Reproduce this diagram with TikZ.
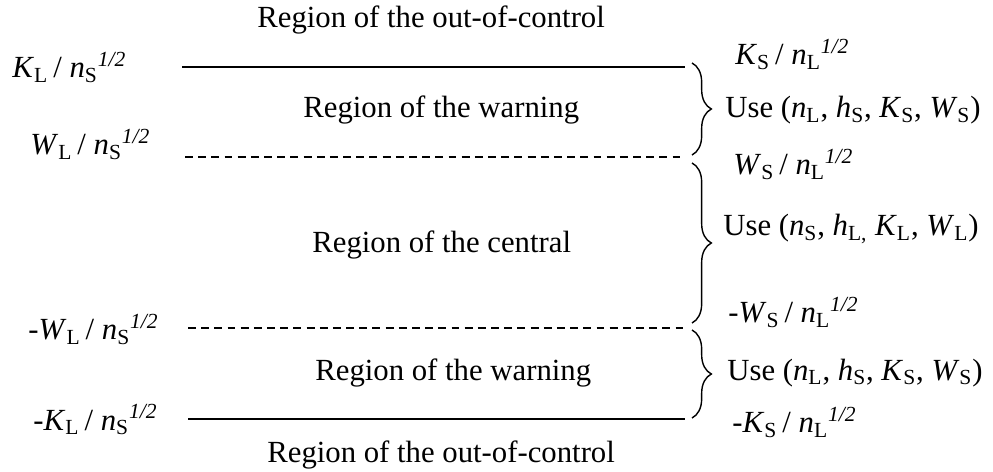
\documentclass[tikz,border=0pt]{standalone}
\usepackage{fontspec}
\setmainfont{Liberation Serif}
\usetikzlibrary{decorations.pathreplacing}

\newcommand{\qv}[2]{\textit{#1}\textsubscript{#2}}
\newcommand{\halfpow}{\textsuperscript{\textit{1/2}}}

\tikzset{
  lbl/.style={anchor=base west, inner sep=0pt, font=\fontsize{17.5}{21}\selectfont},
  limit/.style={line width=0.8pt},
  warnlimit/.style={line width=0.8pt, dash pattern=on 4.5pt off 3pt},
  rbrace/.style={decorate, decoration={brace, amplitude=11pt}, line width=0.8pt}
}

\begin{document}
\begin{tikzpicture}[x=0.02cm, y=-0.02cm]
    \useasboundingbox (0,0) rectangle (993,472);
    % limit lines
    \draw[limit]     (182,67) -- (685,67);
    \draw[warnlimit] (185,157) -- (685,157);
    \draw[warnlimit] (188,328) -- (685,328);
    \draw[limit]     (188,419) -- (685,419);
    % regions
    \node[lbl] (ooc1)  at (257,28)  {Region of the out-of-control};
    \node[lbl] (warn1) at (303,118) {Region of the warning};
    \node[lbl] (cent)  at (312,253) {Region of the central};
    \node[lbl] (warn2) at (315,380) {Region of the warning};
    \node[lbl] (ooc2)  at (267,462) {Region of the out-of-control};
    % left limits
    \node[lbl] (kl)  at (12,78)  {\qv{K}{L}\,/ \qv{n}{S}\halfpow};
    \node[lbl] (wl)  at (30,155) {\qv{W}{L}\,/ \qv{n}{S}\halfpow};
    \node[lbl] (mwl) at (28,340) {-\qv{W}{L}\,/ \qv{n}{S}\halfpow};
    \node[lbl] (mkl) at (33,430) {-\qv{K}{L}\,/ \qv{n}{S}\halfpow};
    % braces
    \draw[rbrace] (692,63) -- (692,155);
    \draw[rbrace] (692,163) -- (692,323);
    \draw[rbrace] (692,330) -- (692,418);
    % right limits and schemes
    \node[lbl] (ks)   at (735,65)  {\qv{K}{S}\,/ \qv{n}{L}\halfpow};
    \node[lbl] (use1) at (725,118) {Use (\qv{n}{L}, \qv{h}{S}, \qv{K}{S}, \qv{W}{S})};
    \node[lbl] (ws)   at (733,175) {\qv{W}{S}\,/ \qv{n}{L}\halfpow};
    \node[lbl] (use2) at (723,236) {Use (\qv{n}{S}, \textit{h}\textsubscript{L,} \qv{K}{L}, \qv{W}{L})};
    \node[lbl] (mws)  at (728,323) {-\qv{W}{S}\,/ \qv{n}{L}\halfpow};
    \node[lbl] (use3) at (727,380) {Use (\qv{n}{L}, \qv{h}{S}, \qv{K}{S}, \qv{W}{S})};
    \node[lbl] (mks)  at (732,433) {-\qv{K}{S}\,/ \qv{n}{L}\halfpow};
\end{tikzpicture}
\end{document}
